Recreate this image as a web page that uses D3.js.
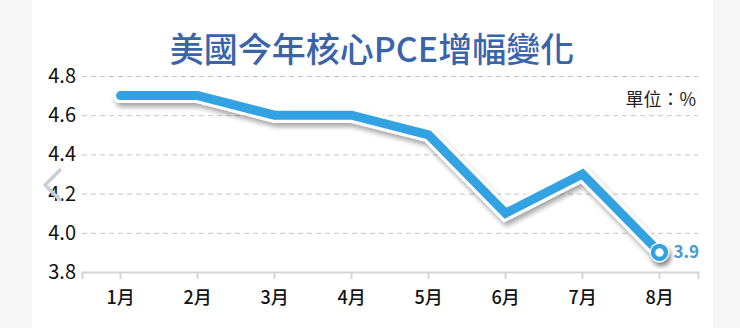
<!DOCTYPE html>
<html>
<head>
<meta charset="utf-8">
<script src="https://cdn.jsdelivr.net/npm/d3@7"></script>
<style>
  html, body { margin: 0; padding: 0; background: #f6f6f6; }
  #chart { width: 740px; height: 328px; }
  text { font-family: "Noto Sans CJK TC", "Noto Sans", sans-serif; }
</style>
</head>
<body>
<div id="chart"></div>
<script>
// Monthly core PCE growth, in percent.
const months = ['1月', '2月', '3月', '4月', '5月', '6月', '7月', '8月'];
const pceValues = [4.7, 4.7, 4.6, 4.6, 4.5, 4.1, 4.3, 3.9];
const yTicks = [3.8, 4.0, 4.2, 4.4, 4.6, 4.8];
const title = '美國今年核心PCE增幅變化';
const unitLabel = '單位：%';

const width = 740, height = 328;
const m = { top: 76, right: 42, bottom: 56, left: 82 };
const innerW = width - m.left - m.right;
const innerH = height - m.top - m.bottom;

const svg = d3.select('#chart').append('svg').attr('width', width).attr('height', height);

// White card behind the chart, the page edges stay light grey.
svg.append('rect').attr('x', 32).attr('y', 0).attr('width', 681).attr('height', height).attr('fill', '#ffffff');

const defs = svg.append('defs');
const shadow = defs.append('filter').attr('id', 'shadow')
  .attr('x', '-10%').attr('y', '-20%').attr('width', '130%').attr('height', '150%');
shadow.append('feDropShadow').attr('dx', 2).attr('dy', 4).attr('stdDeviation', 2.5)
  .attr('flood-color', '#000').attr('flood-opacity', 0.35);

const g = svg.append('g').attr('transform', `translate(${m.left},${m.top})`);

const x = d3.scaleBand().domain(months).range([0, innerW]);
const y = d3.scaleLinear().domain([3.8, 4.8]).range([innerH, 0]);

// Dashed grid lines with the labels on the left.
const yAxis = g.append('g')
  .call(d3.axisLeft(y).tickValues(yTicks).tickFormat(d3.format('.1f')).tickSize(-innerW).tickPadding(6));
yAxis.select('.domain').remove();
yAxis.selectAll('.tick line')
  .attr('stroke', '#c4c4c4').attr('stroke-dasharray', '5,4')
  .filter(d => d === 3.8).remove();
yAxis.selectAll('.tick text').attr('fill', '#111').attr('font-size', 20)
  .attr('font-family', 'Roboto, "Noto Sans", sans-serif');

const xAxis = g.append('g')
  .attr('transform', `translate(0,${innerH})`)
  .call(d3.axisBottom(x).tickSizeOuter(0).tickSize(7).tickPadding(12));
xAxis.select('.domain').attr('stroke', '#d4d4d4').attr('stroke-width', 2);
xAxis.selectAll('.tick line').attr('stroke', '#d4d4d4').attr('stroke-width', 2);
xAxis.selectAll('.tick text').attr('fill', '#111').attr('font-size', 18).attr('font-weight', 500);

const pts = months.map((mo, i) => ({ mo, v: pceValues[i] }));
const line = d3.line().x(d => x(d.mo) + x.bandwidth() / 2).y(d => y(d.v));

// White casing with drop shadow, then the blue line on top.
g.append('path').datum(pts)
  .attr('d', line).attr('fill', 'none')
  .attr('stroke', '#ffffff').attr('stroke-width', 15)
  .attr('stroke-linejoin', 'miter').attr('stroke-linecap', 'round')
  .attr('filter', 'url(#shadow)');
g.append('path').datum(pts)
  .attr('d', line).attr('fill', 'none')
  .attr('stroke', '#33a2e3').attr('stroke-width', 9)
  .attr('stroke-linejoin', 'miter').attr('stroke-linecap', 'round');

const last = pts[pts.length - 1];
const lx = x(last.mo) + x.bandwidth() / 2, ly = y(last.v);
g.append('circle').attr('cx', lx).attr('cy', ly).attr('r', 10)
  .attr('fill', '#ffffff').attr('filter', 'url(#shadow)');
g.append('circle').attr('cx', lx).attr('cy', ly).attr('r', 6.5)
  .attr('fill', '#ffffff').attr('stroke', '#33a2e3').attr('stroke-width', 4.5);
g.append('text').attr('x', lx + 14).attr('y', ly + 6)
  .attr('fill', '#4a98d6').attr('font-size', 17).attr('font-weight', 700)
  .attr('font-family', 'Roboto, sans-serif')
  .text(d3.format('.1f')(last.v));

// Title and unit note.
svg.append('text').attr('x', 372).attr('y', 62).attr('text-anchor', 'middle')
  .attr('fill', '#3a64aa').attr('font-size', 34).attr('font-weight', 500)
  .text(title);
svg.append('text').attr('x', 696).attr('y', 106).attr('text-anchor', 'end')
  .attr('fill', '#222').attr('font-size', 18)
  .text(unitLabel);

// Faint carousel arrow over the left edge.
svg.append('path').attr('d', 'M60,170 L45,185 L60,200')
  .attr('fill', 'none').attr('stroke', '#c9cfd6').attr('stroke-width', 3.5)
  .attr('stroke-linecap', 'round').attr('stroke-linejoin', 'round');
</script>
</body>
</html>
